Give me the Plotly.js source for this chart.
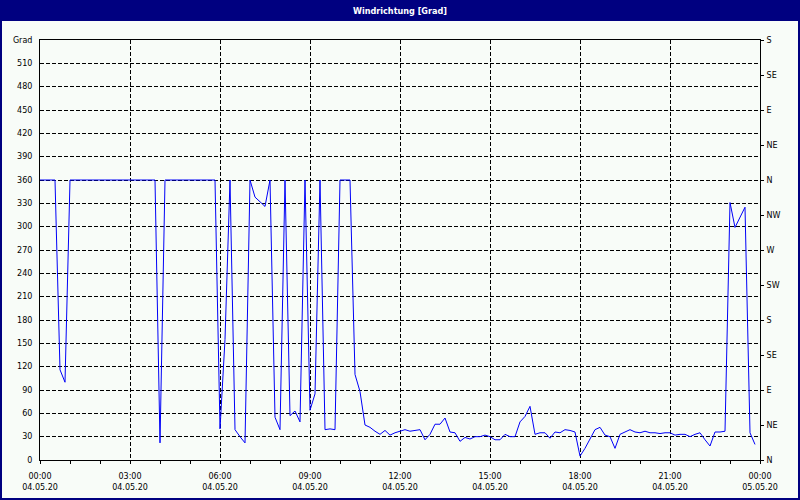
<!DOCTYPE html>
<html>
<head>
<meta charset="utf-8">
<script src="https://cdn.plot.ly/plotly-3.0.1.min.js"></script>
<style>
html,body{margin:0;padding:0;background:#f8fcf8;}
#chart{width:800px;height:500px;}
</style>
</head>
<body>
<div id="chart"></div>
<script>
// Wind direction in degrees, one reading every 10 minutes from 04.05.20 00:00
const windDir = [
  360, 360, 360, 360, 116, 100, 360, 360, 360, 360,
  360, 360, 360, 360, 360, 360, 360, 360, 360, 360,
  360, 360, 360, 360, 22, 360, 360, 360, 360, 360,
  360, 360, 360, 360, 360, 360, 40, 155, 360, 39,
  30, 22, 360, 338, 332, 326, 360, 55, 39, 360,
  57, 63, 49, 360, 64, 85, 360, 39, 40, 39,
  360, 360, 360, 110, 88, 45, 42, 37, 33, 38,
  32, 35, 37, 39, 37, 38, 39, 26, 33, 46,
  46, 54, 36, 35, 24, 29, 27, 30, 30, 32,
  30, 26, 26, 33, 30, 30, 49, 56, 69, 33,
  35, 35, 28, 36, 35, 39, 38, 36, 5, 15,
  28, 39, 42, 32, 30, 15, 33, 36, 39, 36,
  35, 37, 35, 35, 34, 35, 35, 32, 33, 33,
  30, 33, 35, 26, 18, 36, 36, 37, 331, 299,
  311, 325, 35, 20
];
const stepMinutes = 10;

const xTickVals = [0, 3, 6, 9, 12, 15, 18, 21, 24];
const xTimeLabels = ['00:00', '03:00', '06:00', '09:00', '12:00', '15:00', '18:00', '21:00', '00:00'];
const xDateLabels = ['04.05.20', '04.05.20', '04.05.20', '04.05.20', '04.05.20', '04.05.20', '04.05.20', '04.05.20', '05.05.20'];

const yTickVals = [0, 30, 60, 90, 120, 150, 180, 210, 240, 270, 300, 330, 360, 390, 420, 450, 480, 510, 540];
const yTickLabels = ['0', '30', '60', '90', '120', '150', '180', '210', '240', '270', '300', '330', '360', '390', '420', '450', '480', '510', 'Grad'];

const compassVals = [0, 45, 90, 135, 180, 225, 270, 315, 360, 405, 450, 495, 540];
const compassLabels = ['N', 'NE', 'E', 'SE', 'S', 'SW', 'W', 'NW', 'N', 'NE', 'E', 'SE', 'S'];

const hours = windDir.map((_, i) => i * stepMinutes / 60);

const BG = '#f8fcf8', NAVY = '#000080', LINE = '#0000f8';
const tickFont = {family: 'DejaVu Sans', size: 8, color: '#000000'};
const GRIDDASH = '4px,2px';

// pixel -> paper helpers (plot area 40..760 x 40..460)
const px = v => (v - 40) / 720;
const py = v => (460 - v) / 420;

const traces = [
  {x: hours, y: windDir, type: 'scatter', mode: 'lines',
   line: {color: LINE, width: 1}, hoverinfo: 'skip', showlegend: false},
  {x: [0], y: [0], xaxis: 'x2', yaxis: 'y2', type: 'scatter', mode: 'markers',
   marker: {opacity: 0}, hoverinfo: 'skip', showlegend: false}
];

const layout = {
  width: 800, height: 500,
  margin: {l: 40, r: 40, t: 40, b: 40, pad: 0},
  paper_bgcolor: BG, plot_bgcolor: BG,
  showlegend: false,
  title: {text: 'Windrichtung [Grad]', xref: 'container', x: 0.5, xanchor: 'center',
          yref: 'container', y: 1 - 10.5 / 500, yanchor: 'middle',
          font: {family: 'DejaVu Sans Condensed, Liberation Sans, DejaVu Sans, sans-serif', size: 9, color: '#ffffff', weight: 'bold'}},
  xaxis: {range: [0, 24], tickmode: 'array', tickvals: xTickVals, ticktext: xTimeLabels,
          showgrid: true, gridcolor: '#000000', griddash: GRIDDASH, gridwidth: 1,
          showline: true, linecolor: '#000000', linewidth: 1, mirror: true,
          ticks: 'outside', ticklen: 3, tickcolor: '#000000', tickwidth: 1,
          minor: {tickmode: 'linear', tick0: 0, dtick: 1, ticks: 'outside', ticklen: 3,
                  tickcolor: '#000000', tickwidth: 1, showgrid: false},
          ticklabelstandoff: 5,
          zeroline: false, tickfont: tickFont, fixedrange: true},
  xaxis2: {range: [0, 24], overlaying: 'x', side: 'bottom', anchor: 'y',
           tickmode: 'array', tickvals: xTickVals, ticktext: xDateLabels,
           showgrid: false, showline: false, ticks: '', zeroline: false,
           ticklabelstandoff: 21, tickfont: tickFont, fixedrange: true},
  yaxis: {range: [0, 540], tickmode: 'array', tickvals: yTickVals, ticktext: yTickLabels,
          showgrid: true, gridcolor: '#000000', griddash: GRIDDASH, gridwidth: 1,
          showline: true, linecolor: '#000000', linewidth: 1,
          ticks: '', ticklabelstandoff: 5, zeroline: false, tickfont: tickFont, fixedrange: true},
  yaxis2: {range: [0, 540], overlaying: 'y', side: 'right', anchor: 'x',
           tickmode: 'array', tickvals: compassVals, ticktext: compassLabels,
           showgrid: false, showline: true, linecolor: '#000000', linewidth: 1,
           ticks: 'outside', ticklen: 3, tickcolor: '#000000', tickwidth: 1,
           ticklabelstandoff: 1, zeroline: false, tickfont: tickFont, fixedrange: true},
  shapes: [
    {type: 'rect', xref: 'paper', yref: 'paper', layer: 'below',
     x0: px(0), x1: px(800), y0: py(21), y1: py(0), fillcolor: NAVY, line: {width: 0}},
    {type: 'rect', xref: 'paper', yref: 'paper', layer: 'below',
     x0: px(0), x1: px(2), y0: py(500), y1: py(0), fillcolor: NAVY, line: {width: 0}},
    {type: 'rect', xref: 'paper', yref: 'paper', layer: 'below',
     x0: px(798), x1: px(800), y0: py(500), y1: py(0), fillcolor: NAVY, line: {width: 0}},
    {type: 'rect', xref: 'paper', yref: 'paper', layer: 'below',
     x0: px(0), x1: px(800), y0: py(500), y1: py(498), fillcolor: NAVY, line: {width: 0}}
  ]
};

Plotly.newPlot('chart', traces, layout, {displayModeBar: false, staticPlot: true});
</script>
</body>
</html>
